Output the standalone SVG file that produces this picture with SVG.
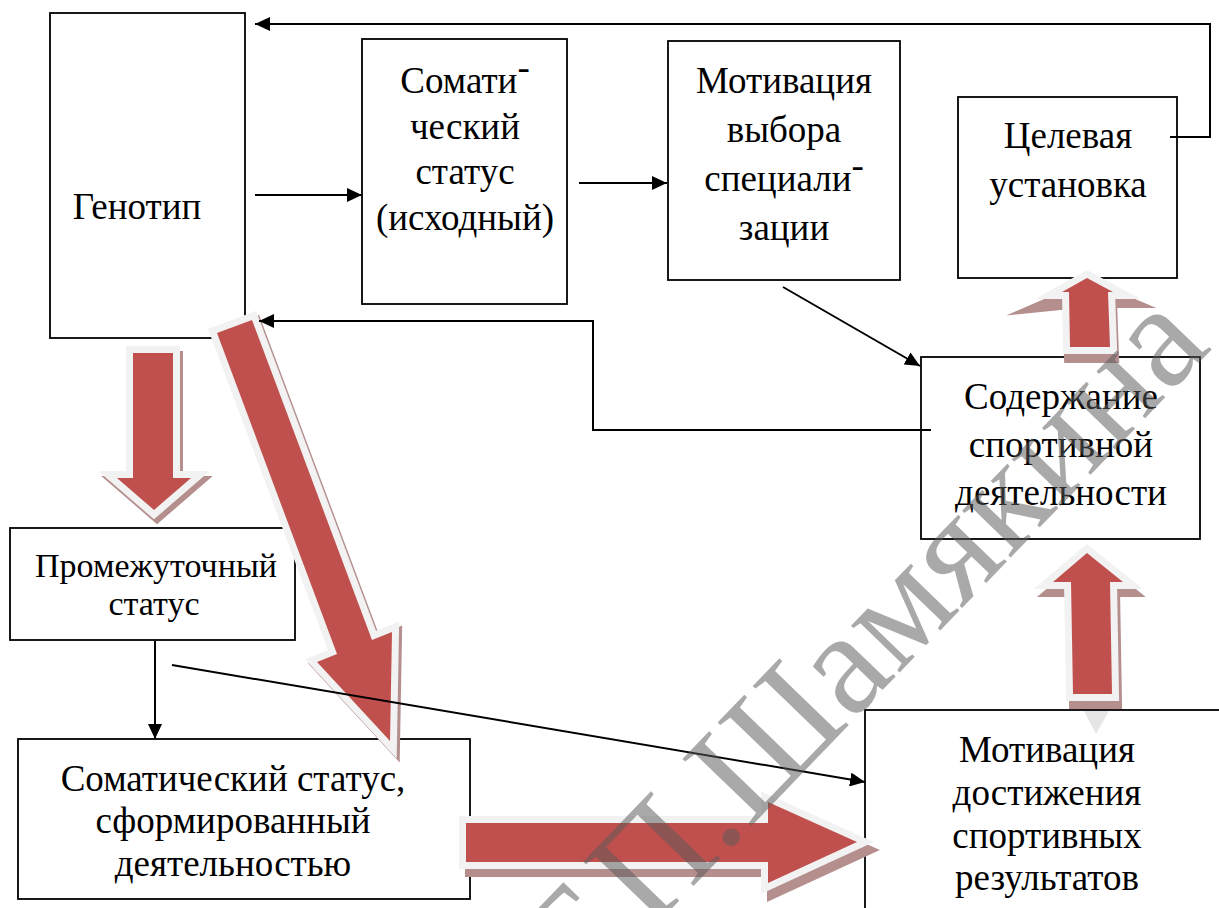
<svg xmlns="http://www.w3.org/2000/svg" width="1219" height="908" viewBox="0 0 1219 908">
<style>
.box{fill:#fff;stroke:#000;stroke-width:1.8}
.t{font-family:"Liberation Serif","Times New Roman",serif;font-size:37px;fill:#000;text-anchor:middle}
.con{fill:none;stroke:#000;stroke-width:2}
.arr{fill:#C0504D;stroke:#F2F2F2;stroke-width:14;stroke-linejoin:miter;stroke-miterlimit:8;paint-order:stroke fill}
.sh{fill:#B58E8E;stroke:#B58E8E;stroke-width:14;stroke-linejoin:miter;stroke-miterlimit:8}
.wm{font-family:"Liberation Serif","Times New Roman",serif;font-size:147px;fill:#5a5a5a;fill-opacity:0.52;text-anchor:end}
</style>
<defs>
<marker id="ah" viewBox="0 0 15 14" markerWidth="15" markerHeight="14" refX="15" refY="7" markerUnits="userSpaceOnUse" orient="auto">
<path d="M0,0 L15,7 L0,14 z" fill="#000"/>
</marker>
</defs>
<rect width="1219" height="908" fill="#fff"/>

<g id="genotip"><rect class="box" x="50" y="13" width="195" height="325"/>
<text class="t" x="137" y="219">Генотип</text></g>

<g id="somatic-initial"><rect class="box" x="362" y="39" width="205" height="265"/>
<text class="t" x="465" y="93">Сомати<tspan dy="-13">-</tspan></text>
<text class="t" x="465" y="139">ческий</text>
<text class="t" x="465" y="184">статус</text>
<text class="t" x="465" y="230">(исходный)</text></g>

<g id="motivation-choice"><rect class="box" x="668" y="41" width="232" height="239"/>
<text class="t" x="784" y="93">Мотивация</text>
<text class="t" x="784" y="142">выбора</text>
<text class="t" x="784" y="191">специали<tspan dy="-13">-</tspan></text>
<text class="t" x="784" y="240">зации</text></g>

<g id="target"><rect class="box" x="958" y="97" width="219" height="181"/>
<text class="t" x="1068" y="148">Целевая</text>
<text class="t" x="1068" y="197">установка</text></g>

<g id="content"><rect class="box" x="921" y="357" width="279" height="182"/>
<text class="t" x="1061" y="409">Содержание</text>
<text class="t" x="1061" y="457">спортивной</text>
<text class="t" x="1061" y="505">деятельности</text></g>

<g id="intermediate"><rect class="box" x="10" y="528" width="285" height="112"/>
<text class="t" x="156" y="577" style="font-size:34px">Промежуточный</text>
<text class="t" x="154" y="615" style="font-size:34px">статус</text></g>

<g id="somatic-formed"><rect class="box" x="18" y="739" width="452" height="160"/>
<text class="t" x="233" y="791">Соматический статус,</text>
<text class="t" x="233" y="833">сформированный</text>
<text class="t" x="233" y="876">деятельностью</text></g>

<g id="motivation-achievement"><rect class="box" x="865" y="710" width="400" height="260"/>
<text class="t" x="1047" y="762">Мотивация</text>
<text class="t" x="1047" y="805">достижения</text>
<text class="t" x="1047" y="848">спортивных</text>
<text class="t" x="1047" y="890">результатов</text></g>

<g id="connectors">
<g id="block-arrows">
<polygon points="1084,711 1109,711 1096,734" fill="#E6E6E6"/>
<polygon class="sh" transform="translate(3,5)" points="133,353 173,353 173,478 191,478 154,510 117,478 133,478"/>
<polygon class="arr" points="133,353 173,353 173,478 191,478 154,510 117,478 133,478"/>
<polygon class="sh" transform="translate(3,4)" points="217,333 252,320 372,640 392,632 390,741 317,662 337,654"/>
<polygon class="arr" points="217,333 252,320 372,640 392,632 390,741 317,662 337,654"/>
<polygon class="sh" transform="translate(6,8)" points="466,823 768,823 768,802 857,842 768,883 768,862 466,862"/>
<polygon class="arr" points="466,823 768,823 768,802 857,842 768,883 768,862 466,862"/>
<polygon class="sh" transform="translate(3,8)" points="1073,694 1071,582 1053,582 1087,553 1123,582 1110,582 1112,694"/>
<polygon class="arr" points="1073,694 1071,582 1053,582 1087,553 1123,582 1110,582 1112,694"/>
<polygon class="sh" points="1071,356 1070,302 1050,304 1089,287 1122,301 1110,301 1112,356"/>
<polygon class="arr" points="1070,347 1069,292 1062,292 1087,278 1113,292 1108,292 1110,347"/>
</g>
<path class="con" marker-end="url(#ah)" d="M255,195 H362"/>
<path class="con" marker-end="url(#ah)" d="M579,183 H667"/>
<path class="con" marker-end="url(#ah)" d="M1170,137 H1210 V24 H255"/>
<path class="con" marker-end="url(#ah)" d="M783,287 L920,366"/>
<path class="con" marker-end="url(#ah)" d="M931,430 H593 V321 H259"/>
<path class="con" marker-end="url(#ah)" d="M155,641 V739"/>
<path class="con" marker-end="url(#ah)" d="M172,665 L865,782"/>
</g>

<text class="wm" transform="translate(1213,348) rotate(-46)">Т.П.Шамякина</text>
</svg>
